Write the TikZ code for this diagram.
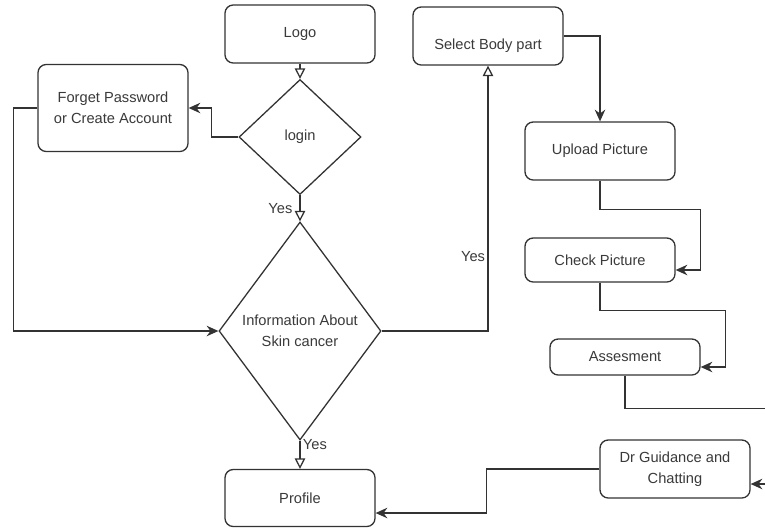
\documentclass[tikz,border=0pt]{standalone}
\usepackage{fontspec}
\setmainfont{Liberation Sans}
\usepackage{xcolor}
\usetikzlibrary{positioning, arrows.meta, shapes.geometric}
\definecolor{inkgray}{HTML}{333333}
\definecolor{textgray}{HTML}{3A3A3A}

\tikzset{
  procbox/.style={draw=inkgray, fill=white, line width=1.1pt, rounded corners=7pt,
    minimum width=4.5cm, minimum height=1.74cm, align=center, text=textgray,
    font=\fontsize{12.5}{17.5}\selectfont},
  decision/.style={diamond, draw=inkgray, fill=white, line width=1.1pt, inner sep=0pt,
    align=center, text=textgray, font=\fontsize{12.5}{17.5}\selectfont},
  flow/.style={draw=inkgray, line width=1.1pt, -{Stealth[length=10pt, width=9pt]}},
  flowopen/.style={draw=inkgray, line width=1.1pt, -{Triangle[open, length=9pt, width=9pt]}},
  yeslabel/.style={text=textgray, font=\fontsize{12.5}{15}\selectfont, inner sep=2pt}
}

\begin{document}
\begin{tikzpicture}[x=0.03cm, y=-0.03cm]
    \clip (0,0) rectangle (765,527);
    \useasboundingbox (0,0) rectangle (765,527);

    % left column
    \node[procbox] (logo) at (300,34) {Logo};
    \node[decision, minimum width=3.66cm, minimum height=3.45cm] (login) at (300,137) {login};
    \node[procbox, minimum height=2.61cm] (forget) at (113,108) {Forget Password\\or Create Account};
    \node[decision, minimum width=4.86cm, minimum height=6.54cm] (info) at (300,331) {Information About\\Skin cancer};
    \node[procbox, minimum height=1.71cm] (profile) at (300,498) {Profile};

    % right column
    \node[procbox] (select) at (488,36) {\raisebox{-0.3cm}[\height][\depth]{Select Body part}};
    \node[procbox] (upload) at (600,151) {Upload Picture};
    \node[procbox, minimum height=1.32cm] (check) at (600,260) {Check Picture};
    \node[procbox, minimum height=1.08cm] (assess) at (625,357) {Assesment};
    \node[procbox] (guide) at (675,469) {Dr Guidance and\\Chatting};

    \draw[flowopen] (logo) -- (login);
    \draw[flow] (login.west) -- ++(-27,0) |- (forget.east);
    \draw[flow] (forget.west) -- ++(-24,0) |- (info.west);
    \draw[flowopen] (login) -- node[yeslabel, left, xshift=-4pt] {Yes} (info);
    \draw[flowopen] (info.east) -| node[yeslabel, left, pos=0.64] {Yes} (select.south);
    \draw[flowopen] (info) -- node[yeslabel, right, pos=0.15] {Yes} (profile);

    \draw[flow] (select.east) -| (upload.north);
    \draw[flow] (upload.south) -- ++(0,29) -| ([xshift=0.75cm, yshift=-0.3cm]check.east) -- ([yshift=-0.3cm]check.east);
    \draw[flow] (check.south) -- ++(0,28) -| ([xshift=0.75cm, yshift=-0.3cm]assess.east) -- ([yshift=-0.3cm]assess.east);
    \draw[flow] (assess.south) -- ++(0,33) -| ([xshift=0.9cm, yshift=-0.45cm]guide.east) -- ([yshift=-0.45cm]guide.east);
    \draw[flow] (guide.west) -- ++(-113,0) |- ([yshift=-0.45cm]profile.east);
  \end{tikzpicture}
\end{document}
